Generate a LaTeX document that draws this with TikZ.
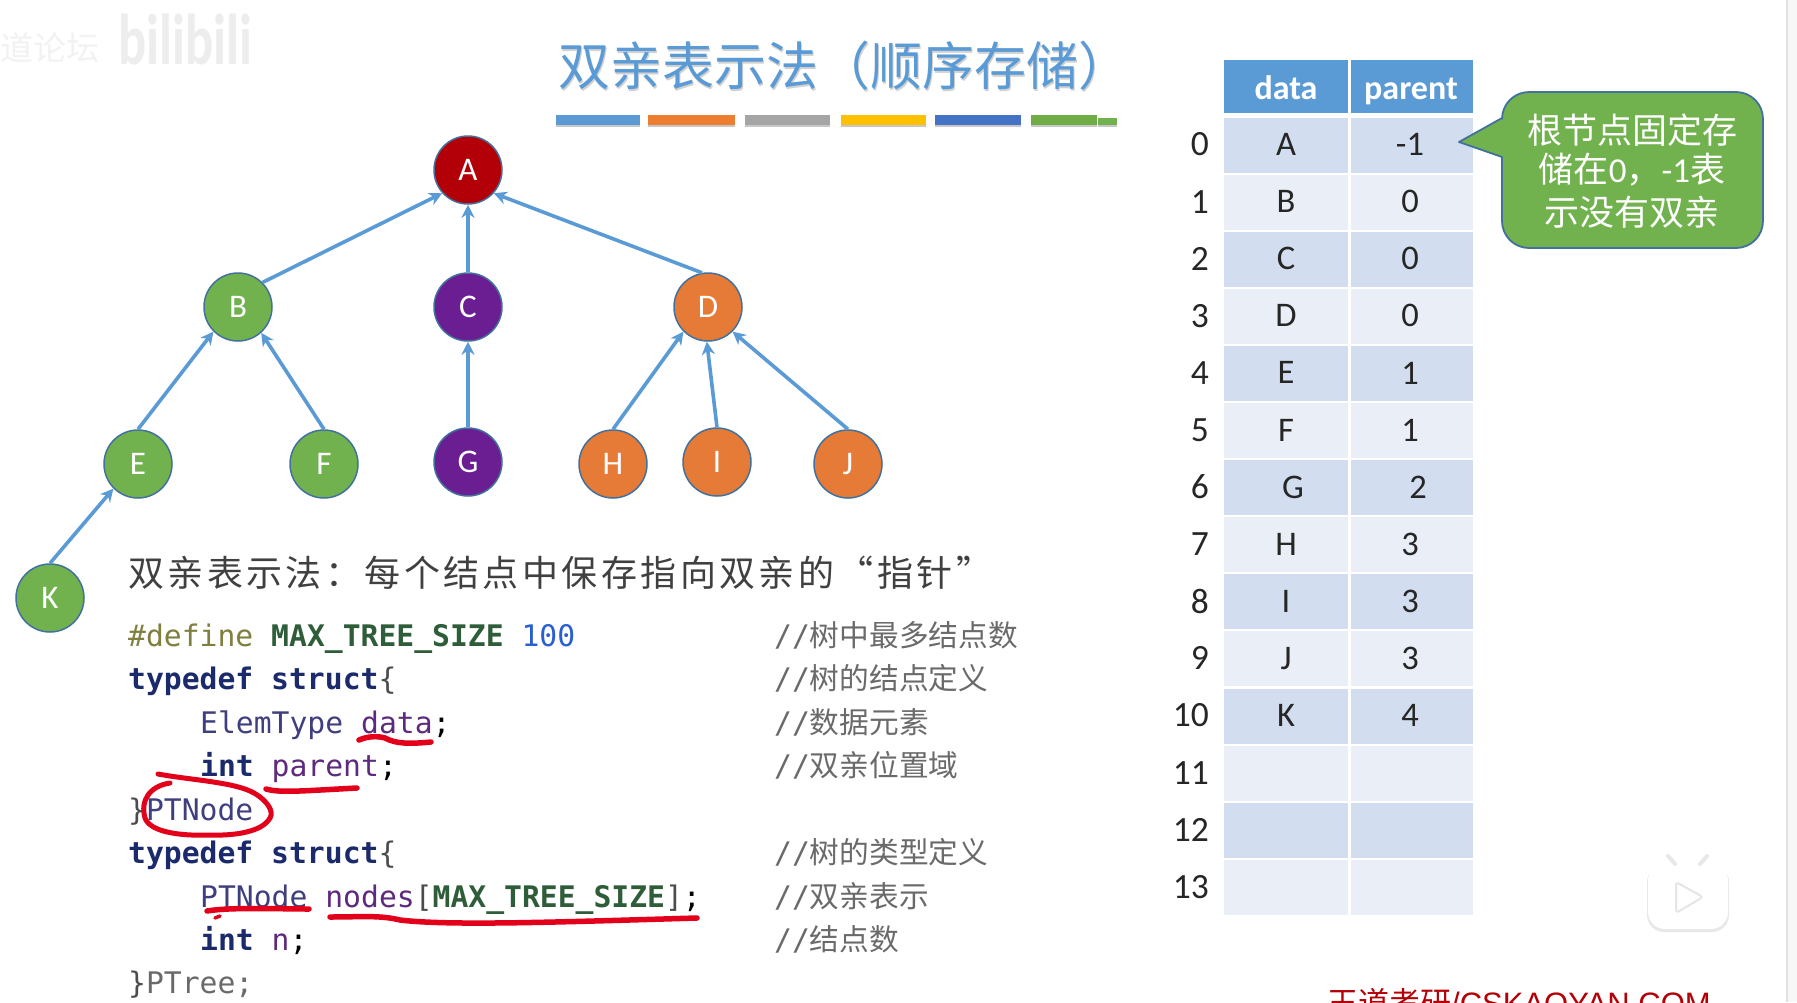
\documentclass[tikz,border=0pt]{standalone}
\usepackage{fontspec}
\usetikzlibrary{arrows.meta}
\setmainfont{Carlito}
\newfontfamily\cjk{Noto Sans CJK SC}
\newfontfamily\mono{DejaVu Sans Mono}
\newfontfamily\arialf{Liberation Sans}
\definecolor{tblue}{HTML}{5B9BD5}
\definecolor{bord}{HTML}{41719C}
\definecolor{rdark}{HTML}{D2DEEF}
\definecolor{rlight}{HTML}{EAEFF7}
\definecolor{cgreen}{HTML}{71B24E}
\definecolor{cred}{HTML}{B30008}
\definecolor{cpurple}{HTML}{6B1E92}
\definecolor{corange}{HTML}{E67A37}
\definecolor{kdef}{HTML}{7F7F3F}
\definecolor{kmac}{HTML}{2F5D3A}
\definecolor{knum}{HTML}{2A5FD0}
\definecolor{kkey}{HTML}{1B2A6B}
\definecolor{ktype}{HTML}{3F3F80}
\definecolor{kvar}{HTML}{5E2A7E}
\definecolor{kgray}{HTML}{6A6A6A}
\definecolor{ink}{HTML}{E2001A}
\newcommand{\fsz}[1]{\fontsize{#1}{#1}\selectfont}
\tikzset{
  x=1pt,y=-1pt,
  tnode/.style={circle,draw=bord,line width=1.5pt,minimum size=68pt,inner sep=0pt,text=white,font=\fsz{33}},
  gn/.style={tnode,fill=cgreen},
  rn/.style={tnode,fill=cred},
  pn/.style={tnode,fill=cpurple},
  on/.style={tnode,fill=corange},
  edge/.style={draw=tblue,line width=3.6pt,-{Stealth[length=13pt,width=13pt]}},
  cell/.style={font=\fsz{34.5},text=black!85,inner sep=0pt},
  idx/.style={font=\fsz{35.5},text=black!85,anchor=east,inner sep=0pt},
  hdr/.style={font=\bfseries\fsz{34},text=white,inner sep=0pt,anchor=base},
  code/.style={anchor=base west,inner sep=0pt,font=\mono\fsz{29.7}},
  note/.style={anchor=base west,inner sep=0pt,font=\fsz{29.7},text=kgray},
  redink/.style={draw=ink,line width=5.5pt,line cap=round,line join=round},
}
\begin{document}
\begin{tikzpicture}
\useasboundingbox (0,0) rectangle (1797,1002);
\fill[white] (0,0) rectangle (1797,1002);
\fill[black!3] (1787,0) rectangle (1797,1002);
\draw[black!12,line width=1.5pt] (1787,0) -- (1787,1002);

% watermark
\node[inner sep=0pt,anchor=west,text=black!5,font=\cjk\fsz{33}] (wm1) at (0,48) {道论坛};
\node[inner sep=0pt,anchor=west,text=black!7,font=\bfseries\fsz{72},xscale=0.73] (wm2) at (118,40) {bilibili};

% title
\node[inner sep=0pt,text=black!18,font=\cjk\fsz{52}] (titles) at (845.5,67.5) {双亲表示法（顺序存储）};
\node[inner sep=0pt,text=tblue,font=\cjk\fsz{52}] (title) at (844.5,65.5) {双亲表示法（顺序存储）};

% colour bars
\foreach \a/\b/\c/\n in {556/640/5B9BD5/1,648/735/ED7D31/2,745/830/A5A5A5/3,841/926/FFC000/4,935/1021/4472C4/5,1031/1097/70AD47/6}{
  \definecolor{barc}{HTML}{\c}
  \fill[black!22] (\a,118) rectangle (\b,127);
  \fill[barc] (\a,115) rectangle (\b,124.5);
}
\fill[black!22] (1098,121) rectangle (1117,127);
\fill[cgreen] (1098,118) rectangle (1117,124.5);

% tree
\node[rn] (A) at (468,170) {A};
\node[gn] (B) at (238,307) {B};
\node[pn] (C) at (468,307) {C};
\node[on] (D) at (708,307) {D};
\node[gn] (E) at (138,464) {E};
\node[gn] (F) at (324,464) {F};
\node[pn] (G) at (468,462) {G};
\node[on] (H) at (613,464) {H};
\node[on] (I) at (717,462) {I};
\node[on] (J) at (848,464) {J};
\node[gn] (K) at (50,598) {K};
\draw[edge] (B.45) -- (A.222);
\draw[edge] (C.90) -- (A.270);
\draw[edge] (D.100) -- (A.-42);
\draw[edge] (E.90) -- (B.225);
\draw[edge] (F.90) -- (B.-48);
\draw[edge] (G.90) -- (C.270);
\draw[edge] (H.90) -- (D.225);
\draw[edge] (I.90) -- (D.268);
\draw[edge] (J.90) -- (D.-45);
\draw[edge] (K.90) -- (E.225);

% heading sentence
\node[anchor=base west,inner sep=0pt,text=black!75,font=\cjk\fsz{36}] (lead) at (128,586)
  {\addfontfeature{LetterSpace=9.5}双亲表示法：每个结点中保存指向双亲的“指针”};

% code
\node[code] (c1) at (128,646) {\textcolor{kdef}{\#define} \textcolor{kmac}{\bfseries MAX\_TREE\_SIZE} \textcolor{knum}{100}};
\node[code] (c2) at (128,689) {\textcolor{kkey}{\bfseries typedef struct}\textcolor{black!70}{\{}};
\node[code] (c3) at (200,733) {\textcolor{ktype}{ElemType} \textcolor{kvar}{data}\textcolor{black}{;}};
\node[code] (c4) at (200,776) {\textcolor{kkey}{\bfseries int} \textcolor{kvar}{parent}\textcolor{black}{;}};
\node[code] (c5) at (128,820) {\textcolor{black!70}{\}}\textcolor{ktype}{PTNode}};
\node[code] (c6) at (128,863) {\textcolor{kkey}{\bfseries typedef struct}\textcolor{black!70}{\{}};
\node[code] (c7) at (200,907) {\textcolor{ktype}{PTNode} \textcolor{kvar}{nodes}\textcolor{black!70}{[}\textcolor{kmac}{\bfseries MAX\_TREE\_SIZE}\textcolor{black!70}{]}\textcolor{black}{;}};
\node[code] (c8) at (200,950) {\textcolor{kkey}{\bfseries int} \textcolor{kvar}{n}\textcolor{black}{;}};
\node[code] (c9) at (128,993) {\textcolor{black!70}{\}}\textcolor{kgray}{PTree;}};

% comments
\node[note] (n1) at (774,646) {{\mono //}{\cjk 树中最多结点数}};
\node[note] (n2) at (774,689) {{\mono //}{\cjk 树的结点定义}};
\node[note] (n3) at (774,733) {{\mono //}{\cjk 数据元素}};
\node[note] (n4) at (774,776) {{\mono //}{\cjk 双亲位置域}};
\node[note] (n6) at (774,863) {{\mono //}{\cjk 树的类型定义}};
\node[note] (n7) at (774,907) {{\mono //}{\cjk 双亲表示}};
\node[note] (n8) at (774,950) {{\mono //}{\cjk 结点数}};

% red pen
\draw[redink] (359,740) .. controls (368,736) and (378,736) .. (385,738) .. controls (396,744) and (410,744) .. (431,742);
\draw[redink] (266,789) .. controls (280,793) and (300,791) .. (357,788);
\draw[redink,line width=5pt] (158,774) .. controls (190,780) and (235,782) .. (254,793)
  .. controls (268,801) and (274,812) .. (270,818)
  .. controls (262,832) and (235,836) .. (207,835)
  .. controls (180,836) and (150,832) .. (145,818)
  .. controls (140,800) and (150,786) .. (170,783);
\draw[redink] (207,911) .. controls (230,907) and (280,909) .. (309,909);
\draw[redink,line width=3.5pt] (215,918) -- (220,916);
\draw[redink] (330,917) .. controls (360,917) and (380,915) .. (400,920) .. controls (450,926) and (560,922) .. (697,918);

% table
\fill[tblue] (1224,60) rectangle (1348,113);
\fill[tblue] (1350.5,60) rectangle (1473,113);
\foreach \i in {0,...,13}{
  \pgfmathtruncatemacro{\m}{mod(\i,2)}
  \pgfmathsetmacro{\t}{117.5+57.1*\i}
  \pgfmathsetmacro{\e}{\t+55}
  \ifnum\m=0 \def\rc{rdark}\else\def\rc{rlight}\fi
  \fill[\rc] (1224,\t) rectangle (1348,\e);
  \fill[\rc] (1350.5,\t) rectangle (1473,\e);
  \pgfmathsetmacro{\yc}{144.5+57.1*\i}
  \node[idx] (idx\i) at (1209,\yc) {\i};
}
\node[hdr] (hd) at (1286,99) {data};
\node[hdr] (hp) at (1411,99) {parent};
\node[cell] (d0) at (1286,144.5) {A};   \node[cell] (p0) at (1410,144.5) {-1};
\node[cell] (d1) at (1286,201.6) {B};   \node[cell] (p1) at (1410,201.6) {0};
\node[cell] (d2) at (1286,258.7) {C};   \node[cell] (p2) at (1410,258.7) {0};
\node[cell] (d3) at (1286,315.8) {D};   \node[cell] (p3) at (1410,315.8) {0};
\node[cell] (d4) at (1286,372.9) {E};   \node[cell] (p4) at (1410,372.9) {1};
\node[cell] (d5) at (1286,430) {F};     \node[cell] (p5) at (1410,430) {1};
\node[cell] (d6) at (1293,487.1) {G};   \node[cell] (p6) at (1418,487.1) {2};
\node[cell] (d7) at (1286,544.2) {H};   \node[cell] (p7) at (1410,544.2) {3};
\node[cell] (d8) at (1286,601.3) {I};   \node[cell] (p8) at (1410,601.3) {3};
\node[cell] (d9) at (1286,658.4) {J};   \node[cell] (p9) at (1410,658.4) {3};
\node[cell] (d10) at (1286,715.5) {K};  \node[cell] (p10) at (1410,715.5) {4};

% callout
\draw[fill=cgreen,draw=bord,line width=1.8pt,line join=round]
  (1502,118) -- (1459,142) -- (1502,157) [rounded corners=27pt] -- (1502,248) -- (1763,248) -- (1763,92) -- (1502,92) [sharp corners] -- cycle;
\node[inner sep=0pt,text=white,font=\cjk\fsz{35}] (co1) at (1632,130) {根节点固定存};
\node[inner sep=0pt,text=white,font=\cjk\fsz{35}] (co2) at (1632,170) {储在{\fontspec{Carlito}0}，{\fontspec{Carlito}-1}表};
\node[inner sep=0pt,text=white,font=\cjk\fsz{35}] (co3) at (1632,212) {示没有双亲};

% video logo
\fill[black!9,rounded corners=17pt] (1647,865) rectangle (1729,932);
\fill[white,rounded corners=17pt] (1648,863) rectangle (1728,929);
\draw[black!9,line width=4pt,line cap=round] (1668,856) -- (1675,864);
\draw[black!9,line width=4pt,line cap=round] (1707,856) -- (1700,864);
\draw[black!10,fill=white,line width=2pt,line join=round,rounded corners=3pt] (1676,882) -- (1703,897) -- (1676,913) -- cycle;

% footer
\node[anchor=base west,inner sep=0pt,text=cred,font=\arialf\fsz{31}] (foot) at (1327,1014) {{\cjk 王道考研}/CSKAOYAN.COM};
\end{tikzpicture}
\end{document}
